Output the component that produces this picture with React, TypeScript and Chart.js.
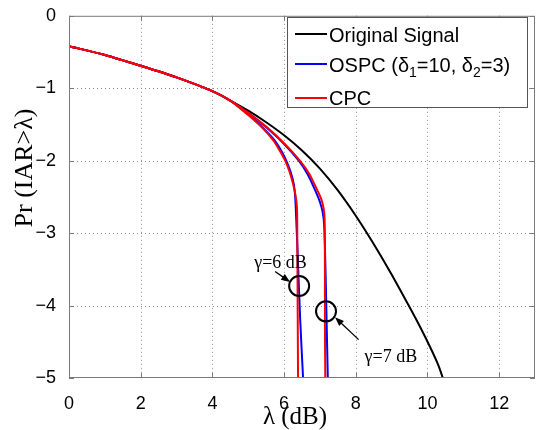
import { useEffect, useRef } from "react";
import { Chart, registerables } from "chart.js";

Chart.register(...registerables);

// Common start of every curve (all methods coincide at low thresholds)
const headLambda = [0, 1, 2, 3, 4, 4.5];
const headPr = [-0.42, -0.54, -0.69, -0.85, -1.04, -1.17];

// Original signal CCDF (log10 scale)
const originalLambda = [5, 5.5, 6, 6.5, 7, 7.5, 8, 8.5, 9, 9.5, 9.8, 10.1, 10.3, 10.43];
const originalPr = [-1.31, -1.47, -1.65, -1.86, -2.11, -2.41, -2.76, -3.15, -3.57, -4.02, -4.3, -4.6, -4.82, -5.0];

// OSPC, gamma = 7 dB
const ospc7Lambda = [5, 5.5, 6, 6.41, 6.66, 6.86, 7.0, 7.08, 7.12, 7.16, 7.19, 7.22];
const ospc7Pr = [-1.34, -1.54, -1.77, -2.0, -2.19, -2.4, -2.57, -2.72, -2.9, -3.6, -4.3, -5.0];

// OSPC, gamma = 6 dB
const ospc6Lambda = [5, 5.4, 5.72, 5.93, 6.06, 6.18, 6.27, 6.31, 6.33, 6.38, 6.45, 6.53];
const ospc6Pr = [-1.36, -1.54, -1.71, -1.87, -2.0, -2.15, -2.32, -2.5, -2.7, -3.3, -4.2, -5.0];

// CPC, gamma = 7 dB
const cpc7Lambda = [5, 5.5, 6, 6.44, 6.7, 6.91, 7.03, 7.1, 7.13, 7.14, 7.14, 7.15];
const cpc7Pr = [-1.34, -1.53, -1.76, -2.0, -2.18, -2.39, -2.52, -2.65, -2.8, -3.5, -4.3, -5.0];

// CPC, gamma = 6 dB
const cpc6Lambda = [5, 5.4, 5.7, 5.9, 6.03, 6.15, 6.25, 6.32, 6.36, 6.37, 6.38, 6.39];
const cpc6Pr = [-1.37, -1.55, -1.72, -1.88, -2.0, -2.15, -2.32, -2.48, -2.65, -3.2, -4.1, -5.0];

const xTicks = [0, 2, 4, 6, 8, 10, 12];
const yTicks = [-5, -4, -3, -2, -1, 0];

const legendLabels = ["Original Signal", "OSPC", "CPC"];
const legendColors = ["#000000", "#0000ff", "#ff0000"];

const SANS = "'Liberation Sans', Arial, sans-serif";
const SERIF = "'Liberation Serif', 'Times New Roman', serif";

const toPoints = (xs: number[], ys: number[]) => xs.map((v, i) => ({ x: v, y: ys[i] }));

type Part = { t: string; sub?: boolean };

function drawRich(ctx: CanvasRenderingContext2D, parts: Part[], x: number, y: number) {
  let cx = x;
  for (const p of parts) {
    ctx.font = p.sub ? `14px ${SANS}` : `20px ${SANS}`;
    ctx.fillText(p.t, cx, y + (p.sub ? 5 : 0));
    cx += ctx.measureText(p.t).width;
  }
}

function arrow(ctx: CanvasRenderingContext2D, x0: number, y0: number, x1: number, y1: number) {
  const ang = Math.atan2(y1 - y0, x1 - x0);
  const len = 9;
  const hw = 3.5;
  ctx.beginPath();
  ctx.moveTo(x0, y0);
  ctx.lineTo(x1 - Math.cos(ang) * len * 0.8, y1 - Math.sin(ang) * len * 0.8);
  ctx.stroke();
  ctx.beginPath();
  ctx.moveTo(x1, y1);
  ctx.lineTo(x1 - Math.cos(ang) * len - Math.sin(ang) * hw, y1 - Math.sin(ang) * len + Math.cos(ang) * hw);
  ctx.lineTo(x1 - Math.cos(ang) * len + Math.sin(ang) * hw, y1 - Math.sin(ang) * len - Math.cos(ang) * hw);
  ctx.closePath();
  ctx.fill();
}

// Dotted grid drawn underneath the curves
const gridPlugin = {
  id: "dottedGrid",
  beforeDatasetsDraw(chart: any) {
    const { ctx, chartArea: a, scales } = chart;
    ctx.save();
    ctx.strokeStyle = "#8c8c8c";
    ctx.lineWidth = 1;
    ctx.setLineDash([1, 3]);
    ctx.beginPath();
    for (const v of xTicks) {
      if (v === 0) continue;
      const px = Math.round(scales.x.getPixelForValue(v)) + 0.5;
      ctx.moveTo(px, a.top);
      ctx.lineTo(px, a.bottom);
    }
    for (const v of yTicks) {
      if (v === -5 || v === 0) continue;
      const py = Math.round(scales.y.getPixelForValue(v)) + 0.5;
      ctx.moveTo(a.left, py);
      ctx.lineTo(a.right, py);
    }
    ctx.stroke();
    ctx.restore();
  },
};

const decorPlugin = {
  id: "decor",
  afterDraw(chart: any) {
    const { ctx, chartArea: a, scales } = chart;
    const xs = scales.x;
    const ys = scales.y;
    ctx.save();

    // box frame
    ctx.strokeStyle = "#7a7a7a";
    ctx.lineWidth = 1;
    ctx.strokeRect(a.left + 0.5, a.top + 0.5, a.right - a.left - 1, a.bottom - a.top - 1);

    // inward tick marks on all four sides
    ctx.beginPath();
    for (const v of xTicks) {
      const px = Math.round(xs.getPixelForValue(v)) + 0.5;
      ctx.moveTo(px, a.bottom);
      ctx.lineTo(px, a.bottom - 5);
      ctx.moveTo(px, a.top);
      ctx.lineTo(px, a.top + 5);
    }
    for (const v of yTicks) {
      const py = Math.round(ys.getPixelForValue(v)) + 0.5;
      ctx.moveTo(a.left, py);
      ctx.lineTo(a.left + 5, py);
      ctx.moveTo(a.right, py);
      ctx.lineTo(a.right - 5, py);
    }
    ctx.stroke();

    // axis titles
    ctx.fillStyle = "#000";
    ctx.font = `25px ${SERIF}`;
    ctx.textAlign = "center";
    ctx.textBaseline = "middle";
    ctx.fillText("λ (dB)", 295, 417);
    ctx.save();
    ctx.translate(25, 168);
    ctx.rotate(-Math.PI / 2);
    ctx.font = `26px ${SERIF}`;
    ctx.fillText("Pr (IAR>λ)", 0, 0);
    ctx.restore();

    // gamma annotations
    ctx.strokeStyle = "#000";
    ctx.fillStyle = "#000";
    ctx.lineWidth = 2;
    const c6x = xs.getPixelForValue(6.42);
    const c6y = ys.getPixelForValue(-3.73);
    const c7x = xs.getPixelForValue(7.17);
    const c7y = ys.getPixelForValue(-4.08);
    ctx.beginPath();
    ctx.arc(c6x, c6y, 10, 0, Math.PI * 2);
    ctx.stroke();
    ctx.beginPath();
    ctx.arc(c7x, c7y, 10, 0, Math.PI * 2);
    ctx.stroke();

    ctx.lineWidth = 1.3;
    arrow(ctx, xs.getPixelForValue(5.75), ys.getPixelForValue(-3.53), c6x - 9, c6y - 4);
    arrow(ctx, xs.getPixelForValue(8.08), ys.getPixelForValue(-4.47), c7x + 9, c7y + 6);

    ctx.font = `18px ${SERIF}`;
    ctx.textAlign = "center";
    ctx.textBaseline = "middle";
    ctx.fillText("γ=6 dB", xs.getPixelForValue(5.9), ys.getPixelForValue(-3.41));
    ctx.fillText("γ=7 dB", xs.getPixelForValue(8.98), ys.getPixelForValue(-4.71));

    // legend box
    const lx = 287.5;
    const ly = 17.5;
    const lw = 240;
    const lh = 90;
    ctx.fillStyle = "#fff";
    ctx.fillRect(lx, ly, lw, lh);
    ctx.strokeStyle = "#555";
    ctx.lineWidth = 1;
    ctx.strokeRect(lx, ly, lw, lh);

    const rowLine = [34, 64, 98];
    const rowBase = [42, 72, 105];
    ctx.textAlign = "left";
    ctx.textBaseline = "alphabetic";
    legendLabels.forEach((label, i) => {
      ctx.strokeStyle = legendColors[i];
      ctx.lineWidth = 2;
      ctx.beginPath();
      ctx.moveTo(295, rowLine[i]);
      ctx.lineTo(327, rowLine[i]);
      ctx.stroke();
      ctx.fillStyle = "#000";
      if (label === "OSPC") {
        drawRich(
          ctx,
          [
            { t: "OSPC (δ" },
            { t: "1", sub: true },
            { t: "=10, δ" },
            { t: "2", sub: true },
            { t: "=3)" },
          ],
          329,
          rowBase[i]
        );
      } else {
        ctx.font = `20px ${SANS}`;
        ctx.fillText(label, 329, rowBase[i]);
      }
    });

    ctx.restore();
  },
};

export default function App() {
  const canvasRef = useRef<HTMLCanvasElement | null>(null);

  useEffect(() => {
    const canvas = canvasRef.current;
    if (!canvas) return;

    const line = (label: string, xsArr: number[], ysArr: number[], color: string, order: number) => ({
      label,
      data: toPoints(xsArr, ysArr),
      borderColor: color,
      backgroundColor: color,
      borderWidth: 2,
      showLine: true,
      pointRadius: 0,
      tension: 0.25,
      fill: false,
      order,
    });

    const chart = new Chart(canvas, {
      type: "scatter",
      data: {
        datasets: [
          line("CPC γ=6", [...headLambda, ...cpc6Lambda], [...headPr, ...cpc6Pr], "#ff0000", 0),
          line("CPC γ=7", [...headLambda, ...cpc7Lambda], [...headPr, ...cpc7Pr], "#ff0000", 0),
          line("OSPC γ=6", [...headLambda, ...ospc6Lambda], [...headPr, ...ospc6Pr], "#0000ff", 1),
          line("OSPC γ=7", [...headLambda, ...ospc7Lambda], [...headPr, ...ospc7Pr], "#0000ff", 1),
          line("Original Signal", [...headLambda, ...originalLambda], [...headPr, ...originalPr], "#000000", 2),
        ],
      },
      options: {
        responsive: false,
        animation: false,
        layout: { padding: { top: 12, right: 2, left: 0, bottom: 0 } },
        plugins: { legend: { display: false }, tooltip: { enabled: false } },
        scales: {
          x: {
            type: "linear",
            min: 0,
            max: 13,
            afterFit: (s: any) => {
              s.height = 52;
            },
            afterBuildTicks: (s: any) => {
              s.ticks = xTicks.map((v) => ({ value: v }));
            },
            grid: { display: false },
            border: { display: false },
            ticks: {
              padding: 7,
              color: "#000",
              font: { family: SANS, size: 18 },
              maxRotation: 0,
              callback: (v: any) => String(v),
            },
          },
          y: {
            type: "linear",
            min: -5,
            max: 0,
            afterFit: (s: any) => {
              s.width = 69;
            },
            afterBuildTicks: (s: any) => {
              s.ticks = yTicks.map((v) => ({ value: v }));
            },
            grid: { display: false },
            border: { display: false },
            ticks: {
              padding: 5,
              color: "#000",
              font: { family: SANS, size: 18 },
              callback: (v: any) => (Number(v) < 0 ? `\u2212${Math.abs(Number(v))}` : String(v)),
            },
          },
        },
      },
      plugins: [gridPlugin, decorPlugin],
    });

    return () => chart.destroy();
  }, []);

  return (
    <div style={{ position: "absolute", left: 0, top: 0, width: 537, height: 430, background: "#fff" }}>
      <canvas ref={canvasRef} width={537} height={430} style={{ display: "block" }} />
    </div>
  );
}
